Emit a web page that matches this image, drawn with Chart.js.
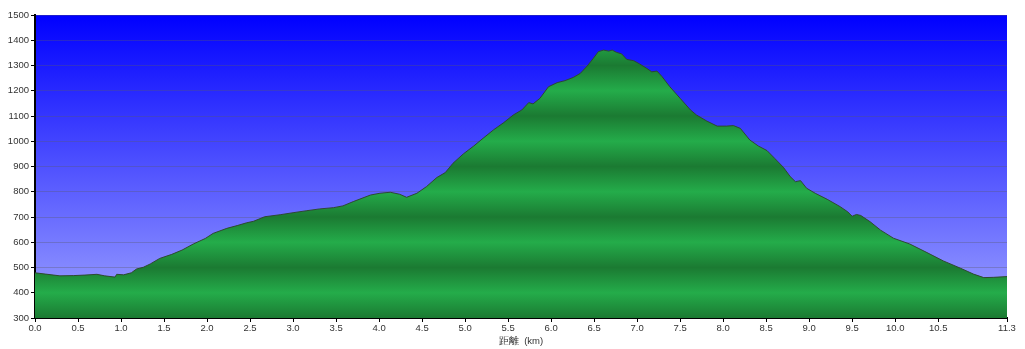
<!DOCTYPE html>
<html>
<head>
<meta charset="utf-8">
<script src="https://cdn.jsdelivr.net/npm/chart.js@4/dist/chart.umd.min.js"></script>
<style>
  html, body { margin: 0; padding: 0; background: #fff; }
  #wrap { width: 1025px; height: 349px; }
</style>
</head>
<body>
<div id="wrap"><canvas id="profile"></canvas></div>
<script>
// distance along the route (km) and elevation (m)
const distKm = [0, 0.12, 0.29, 0.45, 0.58, 0.72, 0.81, 0.93, 0.95, 1.03, 1.12, 1.18, 1.26, 1.34, 1.45,
  1.59, 1.71, 1.84, 1.98, 2.07, 2.23, 2.35, 2.46, 2.54, 2.67, 2.85, 3.0, 3.16, 3.31, 3.47,
  3.58, 3.70, 3.90, 4.01, 4.13, 4.24, 4.32, 4.44, 4.55, 4.67, 4.77, 4.86, 4.98, 5.10, 5.21,
  5.33, 5.45, 5.56, 5.66, 5.74, 5.79, 5.87, 5.97, 6.07, 6.16, 6.26, 6.34, 6.42, 6.49, 6.55,
  6.61, 6.67, 6.71, 6.76, 6.82, 6.88, 6.96, 7.03, 7.11, 7.17, 7.23, 7.29, 7.38, 7.50, 7.62,
  7.69, 7.81, 7.93, 8.04, 8.12, 8.20, 8.31, 8.41, 8.51, 8.60, 8.70, 8.78, 8.84, 8.90, 8.97,
  9.07, 9.21, 9.36, 9.45, 9.50, 9.55, 9.60, 9.71, 9.83, 9.98, 10.17, 10.37, 10.56, 10.76, 10.91,
  11.03, 11.14, 11.30]
const elevM = [479, 474, 467, 468, 470, 473, 467, 462, 473, 471, 479, 494, 501, 514, 536,
  552, 569, 593, 615, 635, 655, 666, 677, 683, 701, 709, 717, 725, 732, 737,
  744, 761, 787, 794, 798, 790, 778, 794, 820, 856, 876, 913, 950, 981, 1012,
  1045, 1074, 1104, 1124, 1153, 1148, 1170, 1216, 1232, 1240, 1253, 1269, 1298, 1328, 1355,
  1361, 1357, 1361, 1352, 1346, 1324, 1319, 1306, 1289, 1275, 1278, 1256, 1216, 1170, 1124,
  1104, 1080, 1060, 1060, 1062, 1051, 1005, 981, 963, 932, 897, 860, 840, 844, 814,
  794, 770, 741, 720, 703, 710, 706, 681, 648, 616, 593, 559, 526, 497, 474,
  460, 461, 464]

const xTicks = [0, 0.5, 1, 1.5, 2, 2.5, 3, 3.5, 4, 4.5, 5, 5.5, 6, 6.5, 7, 7.5, 8, 8.5, 9, 9.5, 10, 10.5, 11.3]
const yMin = 300
const yMax = 1500
const xTitle = '距離  (km)'

const font = { family: 'Tahoma, "Liberation Sans", sans-serif', size: 9.5 }

// sky behind the plot
const skyPlugin = {
  id: 'sky',
  beforeDraw(chart) {
    const { ctx, chartArea: a } = chart
    const g = ctx.createLinearGradient(0, a.top, 0, a.bottom)
    g.addColorStop(0, 'rgb(0,0,255)')
    g.addColorStop(1, 'rgb(158,163,255)')
    ctx.save()
    ctx.fillStyle = g
    ctx.fillRect(a.left, a.top, a.right - a.left, a.bottom - a.top)
    ctx.restore()
  }
}

// banded green: bright on even hundreds, dark on odd ones
const bandFill = (c) => {
  const chart = c.chart
  const a = chart.chartArea
  if (!a) return 'rgb(36,160,70)'
  const y = chart.scales.y
  const g = chart.ctx.createLinearGradient(0, a.top, 0, a.bottom)
  for (let v = yMin; v <= yMax; v += 100) {
    const off = (y.getPixelForValue(v) - a.top) / (a.bottom - a.top)
    const odd = (v / 100) % 2 === 1
    g.addColorStop(Math.min(1, Math.max(0, off)), odd ? 'rgb(27,122,50)' : 'rgb(36,172,74)')
  }
  return g
}

new Chart(document.getElementById('profile'), {
  type: 'line',
  data: {
    datasets: [{
      data: distKm.map((d, i) => ({ x: d, y: elevM[i] })),
      borderColor: 'rgba(45,70,45,0.95)',
      borderWidth: 1,
      backgroundColor: bandFill,
      fill: 'start',
      pointRadius: 0,
      tension: 0
    }]
  },
  options: {
    responsive: true,
    maintainAspectRatio: false,
    animation: false,
    layout: { padding: { top: 15, right: 18, left: 0, bottom: 0 } },
    plugins: {
      legend: { display: false },
      tooltip: { enabled: false }
    },
    scales: {
      x: {
        type: 'linear',
        min: 0,
        max: 11.3,
        afterBuildTicks: (s) => { s.ticks = xTicks.map(v => ({ value: v })) },
        afterFit: (s) => { s.height = 31 },
        ticks: {
          autoSkip: false,
          maxRotation: 0,
          color: '#333',
          font,
          padding: 1,
          callback: (v) => Number(v).toFixed(1)
        },
        grid: { display: true, drawOnChartArea: false, tickLength: 4, tickColor: '#000' },
        border: { color: '#000', width: 2 },
        title: { display: true, text: xTitle, color: '#333', font, padding: { top: 1, bottom: 2 } }
      },
      y: {
        min: yMin,
        max: yMax,
        z: 1,
        afterFit: (s) => { s.width = 35 },
        ticks: { stepSize: 100, color: '#333', font, padding: 2, callback: (v) => String(v) },
        grid: { color: 'rgba(90,90,110,0.35)', lineWidth: 1, tickLength: 4, tickColor: '#000' },
        border: { color: '#000', width: 2 }
      }
    }
  },
  plugins: [skyPlugin]
})
</script>
</body>
</html>
